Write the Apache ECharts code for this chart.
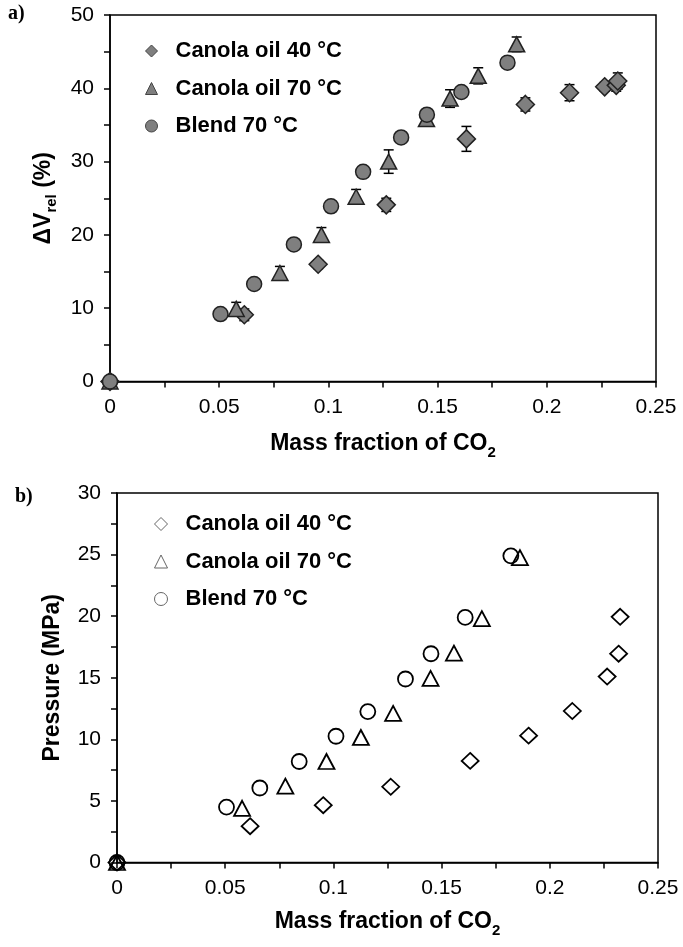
<!DOCTYPE html>
<html>
<head>
<meta charset="utf-8">
<title>CO2 uptake: volume expansion and pressure</title>
<script src="https://cdn.jsdelivr.net/npm/echarts@6/dist/echarts.min.js"></script>
<style>
  html, body { margin: 0; padding: 0; background: #fff; }
  #chart { width: 683px; height: 947px; }
</style>
</head>
<body>
<div id="chart"></div>
<script>
// Series names (legend text)
const seriesNames = ['Canola oil 40 °C', 'Canola oil 70 °C', 'Blend 70 °C'];

// Mass fraction of CO2 for each measurement
const xCanola40 = [0, 0.0615, 0.0953, 0.1265, 0.1632, 0.1902, 0.2104, 0.2265, 0.2318, 0.2325];
const xCanola70 = [0, 0.0578, 0.0778, 0.0968, 0.1127, 0.1276, 0.1449, 0.1557, 0.1686, 0.1862];
const xBlend70  = [0, 0.0506, 0.0660, 0.0842, 0.1012, 0.1159, 0.1333, 0.1451, 0.1609, 0.1820];

// Relative volume change ΔVrel (%) and its error
const dvCanola40  = [0, 9.1, 16.0, 24.1, 33.1, 37.8, 39.4, 40.2, 40.4, 41.0];
const errCanola40 = [0, 0.8, 0.6, 0.9, 1.7, 0.9, 1.1, 0.6, 0.8, 1.1];
const dvCanola70  = [0, 9.9, 14.8, 20.0, 25.2, 30.0, 35.8, 38.6, 41.7, 46.0];
const errCanola70 = [0, 0.9, 0.9, 1.0, 1.0, 1.6, 0.7, 1.2, 1.1, 1.0];
const dvBlend70   = [0, 9.2, 13.3, 18.7, 23.9, 28.6, 33.3, 36.4, 39.5, 43.5];
const errBlend70  = [0, 0.5, 0.5, 0.5, 0.5, 0.5, 0.5, 0.5, 0.5, 0.5];

// Pressure (MPa)
const pCanola40 = [0, 2.95, 4.65, 6.15, 8.25, 10.3, 12.3, 15.1, 16.95, 19.95];
const pCanola70 = [0, 4.4, 6.2, 8.2, 10.15, 12.1, 14.95, 17.0, 19.8, 24.75];
const pBlend70  = [0, 4.5, 6.05, 8.2, 10.25, 12.25, 14.9, 16.95, 19.9, 24.9];

// Axis ranges
const xRange = { min: 0, max: 0.25, interval: 0.05 };
const dvRange = { min: 0, max: 50, interval: 10 };
const pRange = { min: 0, max: 30, interval: 5 };

const FONT = '"Liberation Sans", Arial, sans-serif';
const BLACK = '#000';
const GREY = '#7f7f7f';
const EDGE = '#222';

const symbols = ['diamond', 'triangle', 'circle'];
const sizesTop = [[18, 18], [16, 15], 15];
const sizesBottom = [[17, 16], [16, 15], 15];

const pairs = (xs, ys) => xs.map((x, i) => [x, ys[i]]);
const triples = (xs, ys, es) => xs.map((x, i) => [x, ys[i], es[i]]);

const axisLineStyle = { color: BLACK, width: 1.5 };

function valueAxis(gridIndex, range, extra) {
  return Object.assign({
    type: 'value',
    gridIndex,
    min: range.min,
    max: range.max,
    interval: range.interval,
    axisLine: { show: true, onZero: false, lineStyle: axisLineStyle },
    axisTick: { show: true, length: 6, lineStyle: axisLineStyle },
    minorTick: { show: true, splitNumber: 2, length: 6, lineStyle: axisLineStyle },
    splitLine: { show: false },
    minorSplitLine: { show: false },
    axisLabel: { color: BLACK, fontFamily: FONT, fontSize: 21 }
  }, extra);
}

const titleRich = {
  a: { fontFamily: FONT, fontSize: 23, fontWeight: 'bold', color: BLACK, verticalAlign: 'top', lineHeight: 26 },
  s: { fontFamily: FONT, fontSize: 15, fontWeight: 'bold', color: BLACK, verticalAlign: 'top', lineHeight: 15, padding: [13, 0, 0, 0] }
};

function xAxisFor(gridIndex, gap) {
  const ax = valueAxis(gridIndex, xRange, {
    name: '{a|Mass fraction of CO}{s|2}',
    nameLocation: 'middle',
    nameGap: gap,
    nameTextStyle: { rich: titleRich }
  });
  ax.axisLabel.margin = 15;
  return ax;
}

// Error bars: vertical whisker with caps, drawn beneath the markers
function errorBarRenderer(params, api) {
  const x = api.value(0), y = api.value(1), e = api.value(2);
  if (!e) return null;
  const hi = api.coord([x, y + e]);
  const lo = api.coord([x, y - e]);
  const half = 5;
  const style = { stroke: BLACK, lineWidth: 1.5 };
  return {
    type: 'group',
    children: [
      { type: 'line', shape: { x1: hi[0], y1: hi[1], x2: lo[0], y2: lo[1] }, style },
      { type: 'line', shape: { x1: hi[0] - half, y1: hi[1], x2: hi[0] + half, y2: hi[1] }, style },
      { type: 'line', shape: { x1: lo[0] - half, y1: lo[1], x2: lo[0] + half, y2: lo[1] }, style }
    ]
  };
}

const topX = [xCanola40, xCanola70, xBlend70];
const topY = [dvCanola40, dvCanola70, dvBlend70];
const topErr = [errCanola40, errCanola70, errBlend70];
const botY = [pCanola40, pCanola70, pBlend70];

const series = [];
for (let i = 0; i < 3; i++) {
  series.push({
    type: 'custom',
    name: seriesNames[i] + ' error',
    xAxisIndex: 0, yAxisIndex: 0,
    renderItem: errorBarRenderer,
    encode: { x: 0, y: 1 },
    data: triples(topX[i], topY[i], topErr[i]),
    z: 1, silent: true
  });
}
for (let i = 0; i < 3; i++) {
  series.push({
    type: 'scatter',
    name: seriesNames[i],
    xAxisIndex: 0, yAxisIndex: 0,
    symbol: symbols[i],
    symbolSize: sizesTop[i],
    itemStyle: { color: GREY, borderColor: EDGE, borderWidth: 1.5, opacity: 1 },
    data: pairs(topX[i], topY[i]),
    z: 2 + i
  });
}
for (let i = 0; i < 3; i++) {
  series.push({
    type: 'scatter',
    name: seriesNames[i],
    xAxisIndex: 1, yAxisIndex: 1,
    symbol: symbols[i],
    symbolSize: sizesBottom[i],
    itemStyle: { color: 'rgba(255,255,255,0)', borderColor: BLACK, borderWidth: 1.8, opacity: 1 },
    data: pairs(topX[i], botY[i]),
    z: 2 + i
  });
}

// Vertical legend; icon is a square box so symbols keep their shape
function legendFor(left, top, icon, fill, stroke) {
  return {
    orient: 'vertical',
    left, top,
    itemWidth: icon,
    itemHeight: icon,
    itemGap: 14.5,
    selectedMode: false,
    textStyle: {
      fontFamily: FONT, fontSize: 22, fontWeight: 'bold', color: BLACK,
      lineHeight: 23, padding: [0, 0, 0, 13]
    },
    data: seriesNames.map((name, i) => ({
      name,
      icon: symbols[i],
      itemStyle: { color: fill, borderColor: stroke, borderWidth: 1 }
    }))
  };
}

const chart = echarts.init(document.getElementById('chart'), null, { renderer: 'canvas' });
chart.setOption({
  backgroundColor: '#fff',
  animation: false,
  grid: [
    { left: 110, top: 15, width: 546, height: 366.5, show: true, borderColor: BLACK, borderWidth: 1.5, backgroundColor: 'transparent' },
    { left: 117, top: 493, width: 541, height: 369.5, show: true, borderColor: BLACK, borderWidth: 1.5, backgroundColor: 'transparent' }
  ],
  xAxis: [xAxisFor(0, 51), xAxisFor(1, 48)],
  yAxis: [
    valueAxis(0, dvRange, {
      name: '{a|ΔV}{s|rel}{a| (%)}',
      nameLocation: 'middle',
      nameGap: 52,
      nameTextStyle: { rich: titleRich },
      axisLabel: { color: BLACK, fontFamily: FONT, fontSize: 21, margin: 16 }
    }),
    valueAxis(1, pRange, {
      name: '{a|Pressure (MPa)}',
      nameLocation: 'middle',
      nameGap: 50,
      nameTextStyle: { rich: titleRich },
      axisLabel: { color: BLACK, fontFamily: FONT, fontSize: 21, margin: 16 }
    })
  ],
  legend: [
    legendFor(140, 34.5, 12, GREY, '#444'),
    legendFor(149, 507.5, 13, '#fff', '#666')
  ],
  graphic: [
    { type: 'text', left: 8, top: 4, style: { text: 'a)', font: 'bold 20px "Liberation Serif", "Times New Roman", serif', fill: BLACK } },
    { type: 'text', left: 15, top: 487, style: { text: 'b)', font: 'bold 20px "Liberation Serif", "Times New Roman", serif', fill: BLACK } }
  ],
  series
});
</script>
</body>
</html>
